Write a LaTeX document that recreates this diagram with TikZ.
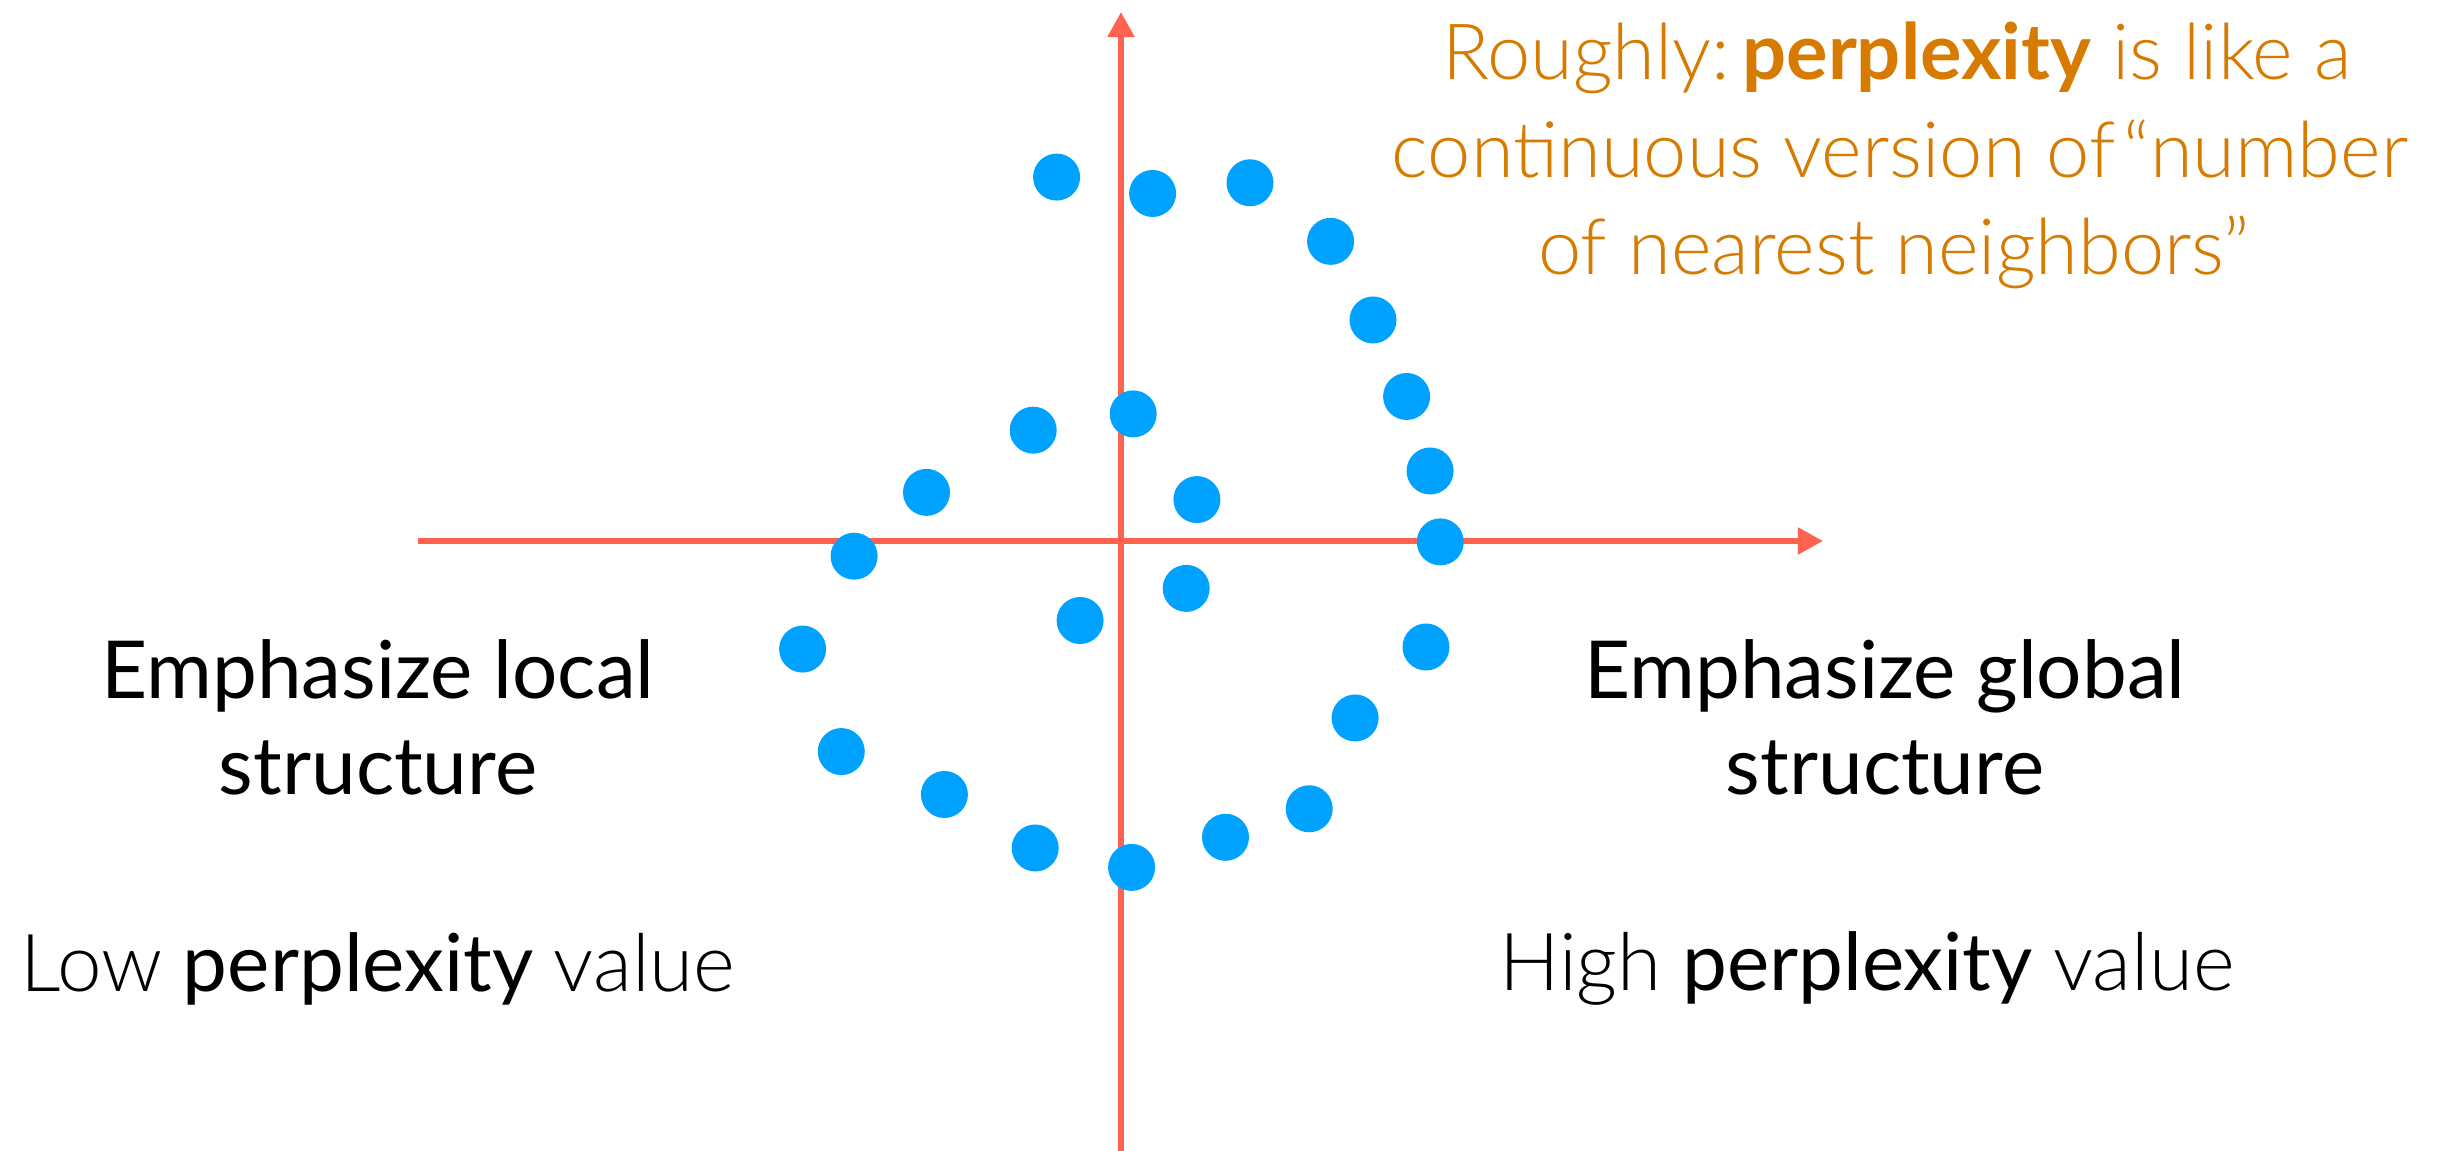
\documentclass[tikz,border=0pt]{standalone}
\usepackage{fontspec}
\setmainfont{Lato}
\newfontfamily\lightfont{Lato Light}
\usetikzlibrary{arrows.meta}
\definecolor{axisred}{RGB}{255,99,80}
\definecolor{dotblue}{RGB}{0,162,255}
\definecolor{noteorange}{RGB}{214,122,0}
\begin{document}
\begin{tikzpicture}[x=0.25pt,y=-0.25pt,
  dot/.style={circle,fill=dotblue,inner sep=0pt,minimum size=11.75pt},
  axis/.style={draw=axisred,line width=1.43pt,-{Triangle[length=6.3pt,width=6.5pt]}},
  lbl/.style={anchor=base,inner sep=0pt,font=\fontsize{20}{24}\selectfont},
  note/.style={lbl,text=noteorange,font=\fontsize{19.4}{24}\selectfont}]
\useasboundingbox (0,0) rectangle (2444,1151);
% axes
\coordinate (xs) at (418,541);
\coordinate (xe) at (1823,541);
\coordinate (ys) at (1121,1151);
\coordinate (ye) at (1121,12);
\draw[axis] (xs) -- (xe);
\draw[axis] (ys) -- (ye);
% dots
\node[dot] (d1) at (1056.6,177.1) {};
\node[dot] (d2) at (1152.6,193.5) {};
\node[dot] (d3) at (1250,182.8) {};
\node[dot] (d4) at (1330.6,241.4) {};
\node[dot] (d5) at (1373,320) {};
\node[dot] (d6) at (1406.6,396.5) {};
\node[dot] (d7) at (1430.1,471) {};
\node[dot] (d8) at (1440.3,541.9) {};
\node[dot] (d9) at (1426,647) {};
\node[dot] (d10) at (1355.1,718) {};
\node[dot] (d11) at (1309.2,808.8) {};
\node[dot] (d12) at (1225.5,837.3) {};
\node[dot] (d13) at (1131.6,867.4) {};
\node[dot] (d14) at (1035.2,848) {};
\node[dot] (d15) at (944.4,794.5) {};
\node[dot] (d16) at (841.3,751.6) {};
\node[dot] (d17) at (802.6,649.1) {};
\node[dot] (d18) at (854.1,556.2) {};
\node[dot] (d19) at (926.5,492.4) {};
\node[dot] (d20) at (1033.2,430.2) {};
\node[dot] (d21) at (1133.2,413.9) {};
\node[dot] (d22) at (1196.9,499.6) {};
\node[dot] (d23) at (1186.2,588.4) {};
\node[dot] (d24) at (1080.1,620.5) {};
% note
\node[note] (r1) at (1897,80) {\lightfont Roughly:\hspace{0.16em}{\normalfont\bfseries perplexity} is like a};
\node[note] (r2) at (1900,178) {\lightfont continuous version of\hspace{0.1em}“number};
\node[note] (r3) at (1894,275) {\lightfont of nearest neighbors”};
% left
\node[lbl] (loc1) at (378,699) {Emphasize local};
\node[lbl] (loc2) at (378,795) {structure};
\node[lbl] (low) at (378,992) {{\lightfont Low} perplexity {\lightfont value}};
% right
\node[lbl] (glo1) at (1885,699) {Emphasize global};
\node[lbl] (glo2) at (1885,795) {structure};
\node[lbl] (high) at (1867,991) {{\lightfont High} perplexity {\lightfont value}};
\end{tikzpicture}
\end{document}
